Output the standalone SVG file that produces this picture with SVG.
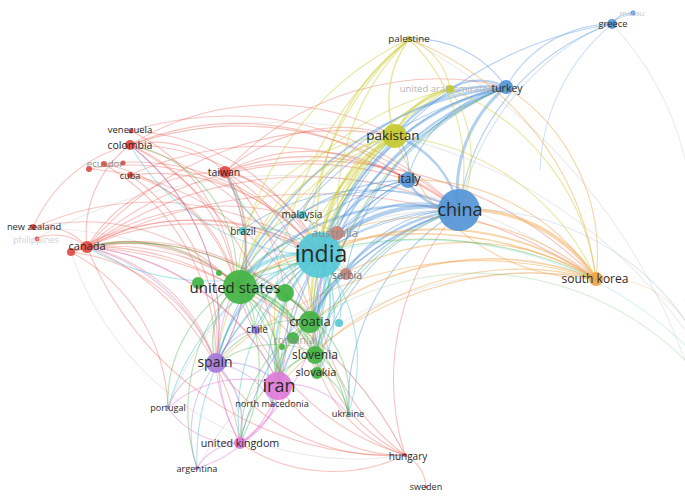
<svg xmlns="http://www.w3.org/2000/svg" width="685" height="502" viewBox="0 0 685 502">
<style>
.e path{fill:none;stroke-width:1.1;stroke-linecap:round}
.r path{stroke:#e8584e;stroke-opacity:.36}
.b path{stroke:#4a90d9;stroke-opacity:.42}
.y path{stroke:#c9c92a;stroke-opacity:.45}
.o path{stroke:#f0a040;stroke-opacity:.45}
.c path{stroke:#3fbfcf;stroke-opacity:.42}
.g path{stroke:#45b03d;stroke-opacity:.38}
.p path{stroke:#9d71d6;stroke-opacity:.38}
.k path{stroke:#e071d5;stroke-opacity:.42}
.f path{stroke:#c8c8c8;stroke-opacity:.35}
text{font-family:"Open Sans","DejaVu Sans",sans-serif;text-anchor:middle;fill:#2a2a2a}
.lt{fill:#8c8c8c}
.vl{fill:#b5b5b5}
.red{fill:#e24a40}.blu{fill:#5295d6}.yel{fill:#c6c92c}.cya{fill:#55c8d6}.grn{fill:#42b342}.pur{fill:#a57bdc}.pnk{fill:#e07bd9}.org{fill:#f3a347}.brn{fill:#c8847a}
circle{fill-opacity:.92}
</style>
<rect width="685" height="502" fill="#ffffff"/>
<g id="connectors" class="e">
<g class="f">
<path d="M33 228A420 420 0 0 1 405 455"/>
<path d="M37 238A520 520 0 0 1 596 279"/>
<path d="M71 252A300 300 0 0 0 405 455"/>
<path d="M130 145A500 500 0 0 1 685 330"/>
<path d="M168 408A300 300 0 0 1 459 210"/>
<path d="M197 468A380 380 0 0 1 596 279"/>
<path d="M409 39A600 600 0 0 1 685 360"/>
<path d="M612 24A300 300 0 0 1 685 300"/>
</g>
<g class="r">
<path d="M87 247A232 232 0 0 1 319 255"/>
<path d="M87 247A154 154 0 0 1 236 285"/>
<path d="M87 247A237 237 0 0 1 313 320"/>
<path d="M87 247A174 174 0 0 1 216 364"/>
<path d="M87 247A236 236 0 0 1 279 385"/>
<path d="M87 247A374 374 0 0 1 459 210"/>
<path d="M87 247A157 157 0 0 1 225 172"/>
<path d="M87 247A111 111 0 0 1 130 145"/>
<path d="M87 247A251 251 0 0 1 315 353"/>
<path d="M87 247A260 260 0 0 1 346 273"/>
<path d="M87 247A249 249 0 0 1 240 443"/>
<path d="M87 247A327 327 0 0 1 395 136"/>
<path d="M87 247A250 250 0 0 1 337 233"/>
<path d="M87 247A380 380 0 0 1 405 455"/>
<path d="M87 247A510 510 0 0 1 596 279"/>
<path d="M87 247A263 263 0 0 1 318 372"/>
<path d="M87 247A330 330 0 0 1 407 180"/>
<path d="M71 252A178 178 0 0 1 216 364"/>
<path d="M71 252A184 184 0 0 1 168 408"/>
<path d="M71 252A248 248 0 0 1 319 255"/>
<path d="M71 252A168 168 0 0 1 236 285"/>
<path d="M71 252A245 245 0 0 1 313 320"/>
<path d="M33 228A57 57 0 0 1 87 247"/>
<path d="M33 228A288 288 0 0 1 319 255"/>
<path d="M33 228A214 214 0 0 1 236 285"/>
<path d="M37 238A51 51 0 0 1 87 247"/>
<path d="M33 228A141 141 0 0 1 130 145"/>
<path d="M130 145A217 217 0 0 1 319 255"/>
<path d="M130 145A175 175 0 0 1 236 285"/>
<path d="M130 145A229 229 0 0 1 216 364"/>
<path d="M130 145A329 329 0 0 1 459 210"/>
<path d="M130 145A259 259 0 0 1 313 320"/>
<path d="M130 145A100 100 0 0 1 225 172"/>
<path d="M130 145A265 265 0 0 1 395 136"/>
<path d="M130 145A272 272 0 0 1 279 385"/>
<path d="M130 145A281 281 0 0 1 407 180"/>
<path d="M131 131A221 221 0 0 1 319 255"/>
<path d="M131 131A187 187 0 0 1 236 285"/>
<path d="M131 131A330 330 0 0 1 459 210"/>
<path d="M104 164A232 232 0 0 1 319 255"/>
<path d="M104 164A175 175 0 0 1 236 285"/>
<path d="M104 164A227 227 0 0 1 216 364"/>
<path d="M89 169A268 268 0 0 1 313 320"/>
<path d="M89 169A240 240 0 0 1 319 255"/>
<path d="M130 175A205 205 0 0 1 319 255"/>
<path d="M130 175A150 150 0 0 1 236 285"/>
<path d="M130 175A329 329 0 0 1 459 210"/>
<path d="M130 175A204 204 0 0 1 216 364"/>
<path d="M225 172A129 129 0 0 1 319 255" style="stroke-width:1.5"/>
<path d="M225 172A238 238 0 0 1 459 210" style="stroke-width:1.5"/>
<path d="M225 172A113 113 0 0 1 236 285"/>
<path d="M225 172A172 172 0 0 1 313 320"/>
<path d="M225 172A175 175 0 0 1 395 136"/>
<path d="M225 172A218 218 0 0 1 279 385"/>
<path d="M225 172A390 390 0 0 1 596 279"/>
<path d="M225 172A182 182 0 0 1 407 180"/>
<path d="M225 172A192 192 0 0 1 216 364"/>
<path d="M225 172A290 290 0 0 1 506 87"/>
<path d="M405 455A215 215 0 0 1 319 255"/>
<path d="M405 455A166 166 0 0 1 313 320"/>
<path d="M405 455A251 251 0 0 1 236 285"/>
<path d="M405 455A253 253 0 0 1 459 210"/>
<path d="M405 455A142 142 0 0 1 279 385"/>
<path d="M405 455A38 38 0 0 1 426 487"/>
<path d="M405 455A134 134 0 0 1 315 353"/>
<path d="M405 455A208 208 0 0 1 216 364"/>
<path d="M405 455A166 166 0 0 1 240 443"/>
<path d="M405 455A330 330 0 0 1 87 247"/>
</g>
<g class="b">
<path d="M459 210A132 132 0 0 1 506 87" style="stroke-width:3"/>
<path d="M459 210A60 60 0 0 1 407 180" style="stroke-width:2.5"/>
<path d="M319 255A147 147 0 0 1 459 210" style="stroke-width:4"/>
<path d="M236 285A235 235 0 0 1 459 210" style="stroke-width:2.5"/>
<path d="M395 136A99 99 0 0 1 459 210" style="stroke-width:2.5"/>
<path d="M313 320A185 185 0 0 1 459 210" style="stroke-width:2.5"/>
<path d="M279 385A253 253 0 0 1 459 210" style="stroke-width:1.5"/>
<path d="M216 364A290 290 0 0 1 459 210"/>
<path d="M315 353A199 199 0 0 1 459 210" style="stroke-width:1.5"/>
<path d="M346 273A132 132 0 0 1 459 210"/>
<path d="M337 233A124 124 0 0 1 459 210"/>
<path d="M302 213A157 157 0 0 1 459 210"/>
<path d="M240 443A321 321 0 0 1 459 210"/>
<path d="M459 210A228 228 0 0 1 612 24"/>
<path d="M318 372A212 212 0 0 1 459 210"/>
<path d="M242 230A218 218 0 0 1 459 210"/>
<path d="M348 414A231 231 0 0 1 459 210"/>
<path d="M254 330A231 231 0 0 1 459 210"/>
<path d="M459 210A260 260 0 0 1 685 320" style="stroke-opacity:.2"/>
<path d="M319 255A254 254 0 0 1 506 87" style="stroke-width:2.5"/>
<path d="M395 136A119 119 0 0 1 506 87" style="stroke-width:2.5"/>
<path d="M313 320A290 290 0 0 1 506 87" style="stroke-width:2"/>
<path d="M236 285A336 336 0 0 1 506 87" style="stroke-width:2"/>
<path d="M506 87A123 123 0 0 1 612 24"/>
<path d="M279 385A373 373 0 0 1 506 87" style="stroke-width:1.5"/>
<path d="M407 180A132 132 0 0 1 506 87"/>
<path d="M450 89A56 56 0 0 1 506 87" style="stroke-width:2"/>
<path d="M409 39A110 110 0 0 1 506 87"/>
<path d="M315 353A320 320 0 0 1 506 87"/>
<path d="M346 273A246 246 0 0 1 506 87"/>
<path d="M216 364A395 395 0 0 1 506 87"/>
<path d="M302 213A248 248 0 0 1 506 87"/>
<path d="M337 233A220 220 0 0 1 506 87"/>
<path d="M319 255A381 381 0 0 1 612 24"/>
<path d="M459 210A270 270 0 0 1 633 13" style="stroke-opacity:.25"/>
<path d="M612 24A23 23 0 0 1 633 13"/>
<path d="M612 24A200 200 0 0 0 540 170" style="stroke-opacity:.25"/>
<path d="M319 255A118 118 0 0 1 407 180" style="stroke-width:1.5"/>
<path d="M236 285A200 200 0 0 1 407 180" style="stroke-width:1.5"/>
<path d="M313 320A165 165 0 0 1 407 180"/>
<path d="M395 136A45 45 0 0 1 407 180"/>
<path d="M216 364A263 263 0 0 1 407 180"/>
<path d="M279 385A236 236 0 0 1 407 180"/>
<path d="M315 353A195 195 0 0 1 407 180"/>
</g>
<g class="y">
<path d="M319 255A142 142 0 0 1 395 136" style="stroke-width:2.5"/>
<path d="M395 136A104 104 0 0 1 409 39" style="stroke-width:1.5"/>
<path d="M395 136A74 74 0 0 1 450 89" style="stroke-width:2.5"/>
<path d="M236 285A227 227 0 0 1 395 136" style="stroke-width:1.5"/>
<path d="M313 320A195 195 0 0 1 395 136" style="stroke-width:1.5"/>
<path d="M279 385A280 280 0 0 1 395 136"/>
<path d="M216 364A288 288 0 0 1 395 136"/>
<path d="M395 136A245 245 0 0 1 596 279"/>
<path d="M315 353A228 228 0 0 1 395 136"/>
<path d="M302 213A122 122 0 0 1 395 136"/>
<path d="M337 233A113 113 0 0 1 395 136"/>
<path d="M242 230A178 178 0 0 1 395 136"/>
<path d="M319 255A232 232 0 0 1 409 39" style="stroke-width:1.5"/>
<path d="M409 39A63 63 0 0 1 450 89"/>
<path d="M236 285A306 306 0 0 1 409 39"/>
<path d="M409 39A180 180 0 0 1 459 210"/>
<path d="M313 320A296 296 0 0 1 409 39"/>
<path d="M279 385A375 375 0 0 1 409 39"/>
<path d="M346 273A240 240 0 0 1 409 39"/>
<path d="M319 255A208 208 0 0 1 450 89" style="stroke-width:1.5"/>
<path d="M450 89A121 121 0 0 1 459 210"/>
<path d="M236 285A295 295 0 0 1 450 89"/>
<path d="M313 320A260 260 0 0 1 450 89"/>
<path d="M450 89A237 237 0 0 1 596 279"/>
</g>
<g class="o">
<path d="M459 210A153 153 0 0 1 596 279" style="stroke-width:3.5"/>
<path d="M319 255A281 281 0 0 1 596 279" style="stroke-width:2"/>
<path d="M236 285A360 360 0 0 1 596 279" style="stroke-width:1.5"/>
<path d="M313 320A288 288 0 0 1 596 279" style="stroke-width:1.5"/>
<path d="M279 385A343 343 0 0 1 596 279"/>
<path d="M216 364A387 387 0 0 1 596 279"/>
<path d="M315 353A295 295 0 0 1 596 279"/>
<path d="M407 180A216 216 0 0 1 596 279"/>
<path d="M409 39A296 296 0 0 1 596 279"/>
<path d="M506 87A200 200 0 0 1 596 279"/>
<path d="M346 273A250 250 0 0 1 596 279"/>
<path d="M337 233A264 264 0 0 1 596 279"/>
<path d="M395 136A210 210 0 0 0 596 279"/>
<path d="M596 279A95 95 0 0 1 685 320" style="stroke-opacity:.2"/>
</g>
<g class="c">
<path d="M236 285A89 89 0 0 1 319 255" style="stroke-width:3.5"/>
<path d="M319 255A65 65 0 0 1 313 320" style="stroke-width:3"/>
<path d="M279 385A135 135 0 0 1 319 255" style="stroke-width:2.5"/>
<path d="M216 364A145 145 0 0 1 319 255" style="stroke-width:2"/>
<path d="M319 255A98 98 0 0 1 315 353" style="stroke-width:2"/>
<path d="M319 255A117 117 0 0 1 318 372" style="stroke-width:1.5"/>
<path d="M240 443A201 201 0 0 1 319 255"/>
<path d="M302 213A45 45 0 0 1 319 255"/>
<path d="M242 230A80 80 0 0 1 319 255"/>
<path d="M319 255A32 32 0 0 1 346 273"/>
<path d="M319 255A162 162 0 0 1 348 414"/>
<path d="M272 404A154 154 0 0 1 319 255"/>
<path d="M168 408A218 218 0 0 1 319 255"/>
<path d="M197 468A232 232 0 0 1 319 255"/>
<path d="M254 330A95 95 0 0 1 319 255"/>
<path d="M319 255A70 70 0 0 1 339 323"/>
<path d="M302 213A98 98 0 0 0 236 285"/>
<path d="M87 247A240 240 0 0 0 319 255"/>
<path d="M130 145A220 220 0 0 0 319 255"/>
<path d="M225 172A130 130 0 0 0 319 255"/>
<path d="M319 255A377 377 0 0 1 685 345" style="stroke-opacity:.2"/>
</g>
<g class="g">
<path d="M236 285A85 85 0 0 1 313 320" style="stroke-width:2.5"/>
<path d="M236 285A107 107 0 0 1 315 353" style="stroke-width:2"/>
<path d="M236 285A119 119 0 0 1 318 372" style="stroke-width:1.5"/>
<path d="M236 285A107 107 0 0 1 279 385" style="stroke-width:1.5"/>
<path d="M216 364A80 80 0 0 1 236 285" style="stroke-width:1.5"/>
<path d="M236 285A158 158 0 0 1 240 443"/>
<path d="M236 285A90 90 0 0 1 306 338"/>
<path d="M236 285A173 173 0 0 1 348 414"/>
<path d="M168 408A134 134 0 0 1 236 285"/>
<path d="M197 468A187 187 0 0 1 236 285"/>
<path d="M236 285A126 126 0 0 1 272 404"/>
<path d="M236 285A111 111 0 0 1 346 273"/>
<path d="M236 285A120 120 0 0 1 337 233"/>
<path d="M236 285A50 50 0 0 1 254 330"/>
<path d="M236 285A160 160 0 0 0 87 247"/>
<path d="M236 285A130 130 0 0 0 130 145"/>
<path d="M236 285A120 120 0 0 0 225 172"/>
<path d="M313 320A52 52 0 0 1 318 372"/>
<path d="M279 385A73 73 0 0 1 313 320"/>
<path d="M216 364A106 106 0 0 1 313 320"/>
<path d="M240 443A140 140 0 0 1 313 320"/>
<path d="M313 320A100 100 0 0 1 348 414"/>
<path d="M272 404A95 95 0 0 1 313 320"/>
<path d="M313 320A60 60 0 0 1 346 273"/>
<path d="M313 320A250 250 0 0 0 87 247"/>
<path d="M279 385A48 48 0 0 1 315 353"/>
<path d="M216 364A99 99 0 0 1 315 353"/>
<path d="M315 353A70 70 0 0 1 348 414"/>
<path d="M240 443A118 118 0 0 1 315 353"/>
<path d="M318 372A51 51 0 0 1 348 414"/>
<path d="M236 285A400 400 0 0 1 596 279"/>
<path d="M313 320A300 300 0 0 1 685 360" style="stroke-opacity:.2"/>
<path d="M315 353A220 220 0 0 1 459 210"/>
<path d="M318 372A300 300 0 0 1 506 87"/>
<path d="M315 353A250 250 0 0 1 395 136"/>
</g>
<g class="p">
<path d="M216 364A68 68 0 0 0 168 408"/>
<path d="M216 364A107 107 0 0 0 197 468"/>
<path d="M216 364A83 83 0 0 1 240 443" style="stroke-width:1.5"/>
<path d="M216 364A67 67 0 0 1 279 385" style="stroke-width:1.5"/>
<path d="M216 364A52 52 0 0 1 254 330"/>
<path d="M216 364A70 70 0 0 1 272 404"/>
<path d="M254 330A61 61 0 0 1 279 385"/>
<path d="M216 364A190 190 0 0 0 87 247"/>
<path d="M216 364A230 230 0 0 0 130 145"/>
<path d="M216 364A195 195 0 0 0 225 172"/>
</g>
<g class="k">
<path d="M279 385A70 70 0 0 1 240 443" style="stroke-width:2"/>
<path d="M279 385A118 118 0 0 1 197 468"/>
<path d="M279 385A113 113 0 0 0 168 408"/>
<path d="M279 385A74 74 0 0 1 348 414"/>
<path d="M197 468A50 50 0 0 1 240 443"/>
<path d="M168 408A82 82 0 0 0 240 443"/>
<path d="M240 443A190 190 0 0 1 216 364"/>
<path d="M240 443A170 170 0 0 1 236 285"/>
<path d="M240 443A200 200 0 0 0 319 255"/>
<path d="M279 385A240 240 0 0 0 87 247"/>
</g>
</g>
<g id="nodes">
<g id="n-india"><circle class="cya" cx="319" cy="255" r="23"/><text x="321" y="254" dy=".35em" font-size="23">india</text></g>
<g id="n-china"><circle class="blu" cx="459" cy="210" r="21"/><text x="460" y="210" dy=".35em" font-size="18">china</text></g>
<g id="n-united-states"><circle class="grn" cx="240" cy="287" r="17"/><circle class="grn" cx="198" cy="283" r="6"/><circle class="grn" cx="219" cy="273" r="3"/><circle class="grn" cx="285" cy="293" r="9"/><text x="235" y="288" dy=".35em" font-size="15">united states</text></g>
<g id="n-iran"><circle class="pnk" cx="278" cy="386" r="14"/><text x="279" y="386" dy=".35em" font-size="18">iran</text></g>
<g id="n-pakistan"><circle class="yel" cx="395" cy="136" r="12"/><text x="393" y="135" dy=".35em" font-size="13.5">pakistan</text></g>
<g id="n-spain"><circle class="pur" cx="216" cy="363" r="10"/><text x="215" y="362" dy=".35em" font-size="14">spain</text></g>
<g id="n-croatia"><circle class="grn" cx="310" cy="322" r="11"/><text x="310" y="321" dy=".35em" font-size="13">croatia</text></g>
<g id="n-slovenia"><circle class="grn" cx="315" cy="355" r="9"/><text x="315" y="355" dy=".35em" font-size="12">slovenia</text></g>
<g id="n-slovakia"><circle class="grn" cx="317" cy="373" r="6"/><text x="316" y="372" dy=".35em" font-size="11">slovakia</text></g>
<g id="n-romania"><circle class="grn" cx="293" cy="338" r="6"/><circle class="grn" cx="282" cy="347" r="3"/><text class="lt" x="294" y="340" dy=".35em" font-size="10.5" fill-opacity=".8">romania</text></g>
<g id="n-node-cyan"><circle class="cya" cx="339" cy="323" r="4"/></g>
<g id="n-australia"><circle class="brn" cx="337" cy="233" r="7"/><text class="lt" x="335" y="233" dy=".35em" font-size="11.5">australia</text></g>
<g id="n-serbia"><circle class="brn" cx="346" cy="274" r="6"/><text class="lt" x="347" y="275" dy=".35em" font-size="10.5" style="fill:#6e6e6e">serbia</text></g>
<g id="n-brazil"><circle class="cya" cx="243" cy="231" r="4"/><text x="243" y="231" dy=".35em" font-size="10">brazil</text></g>
<g id="n-malaysia"><circle class="cya" cx="302" cy="215" r="4"/><text x="302" y="214" dy=".35em" font-size="10">malaysia</text></g>
<g id="n-chile"><circle class="pur" cx="256" cy="330" r="4"/><text x="257" y="329" dy=".35em" font-size="10">chile</text></g>
<g id="n-italy"><circle class="blu" cx="408" cy="180" r="8"/><text x="409" y="179" dy=".35em" font-size="12">italy</text></g>
<g id="n-palestine"><circle class="yel" cx="409" cy="39" r="3"/><text x="409" y="39" dy=".35em" font-size="9.8">palestine</text></g>
<g id="n-uae"><circle class="yel" cx="450" cy="89" r="4"/><text class="vl" x="446" y="89" dy=".35em" font-size="9.5">united arab emirates</text></g>
<g id="n-turkey"><circle class="blu" cx="506" cy="87" r="7"/><text x="507" y="88" dy=".35em" font-size="10.5">turkey</text></g>
<g id="n-greece"><circle class="blu" cx="612" cy="24" r="5"/><text x="613" y="24" dy=".35em" font-size="9.3">greece</text></g>
<g id="n-macau"><circle class="blu" cx="633" cy="13" r="2.5"/><text class="vl" x="632" y="13" dy=".35em" font-size="8" style="fill:#c4cbd6">macau</text></g>
<g id="n-south-korea"><circle class="org" cx="596" cy="279" r="7"/><text x="595" y="279" dy=".35em" font-size="12">south korea</text></g>
<g id="n-taiwan"><circle class="red" cx="225" cy="172" r="6"/><text x="224" y="172" dy=".35em" font-size="10.5">taiwan</text></g>
<g id="n-venezuela"><circle class="red" cx="131" cy="131" r="2.5"/><text x="130" y="130" dy=".35em" font-size="9.5">venezuela</text></g>
<g id="n-colombia"><circle class="red" cx="130" cy="145" r="5"/><text x="130" y="145" dy=".35em" font-size="10.5">colombia</text></g>
<g id="n-ecuador"><circle class="red" cx="89" cy="169" r="3"/><circle class="red" cx="104" cy="164" r="3"/><circle class="red" cx="123" cy="163" r="2.5"/><text class="lt" x="105" y="164" dy=".35em" font-size="9.5">ecuador</text></g>
<g id="n-cuba"><circle class="red" cx="130" cy="175" r="3"/><text x="130" y="176" dy=".35em" font-size="9">cuba</text></g>
<g id="n-canada"><circle class="red" cx="87" cy="247" r="6"/><circle class="red" cx="71" cy="252" r="4"/><text x="87" y="246" dy=".35em" font-size="11">canada</text></g>
<g id="n-new-zealand"><circle class="red" cx="33" cy="227" r="3"/><text x="34" y="227" dy=".35em" font-size="9.3">new zealand</text></g>
<g id="n-philippines"><circle class="red" cx="37" cy="239" r="2.5"/><text x="36" y="239.5" dy=".35em" font-size="9" style="fill:#cfd3dc">philippines</text></g>
<g id="n-portugal"><circle class="pur" cx="168" cy="408" r="1.5"/><text x="168" y="408" dy=".35em" font-size="9">portugal</text></g>
<g id="n-north-macedonia"><circle class="pnk" cx="272" cy="405" r="2"/><text x="272" y="404" dy=".35em" font-size="9.2">north macedonia</text></g>
<g id="n-ukraine"><circle class="grn" cx="348" cy="414" r="1.5"/><text x="348" y="414" dy=".35em" font-size="9.2">ukraine</text></g>
<g id="n-united-kingdom"><circle class="pnk" cx="240" cy="443" r="6"/><text x="240" y="443" dy=".35em" font-size="10.7">united kingdom</text></g>
<g id="n-argentina"><circle class="pur" cx="197" cy="468" r="2"/><text x="197" y="469" dy=".35em" font-size="9.2">argentina</text></g>
<g id="n-hungary"><circle class="red" cx="405" cy="455" r="2"/><text x="408" y="456" dy=".35em" font-size="10">hungary</text></g>
<g id="n-sweden"><circle class="red" cx="426" cy="487" r="1.5"/><text x="426" y="487" dy=".35em" font-size="9">sweden</text></g>
</g>
</svg>
